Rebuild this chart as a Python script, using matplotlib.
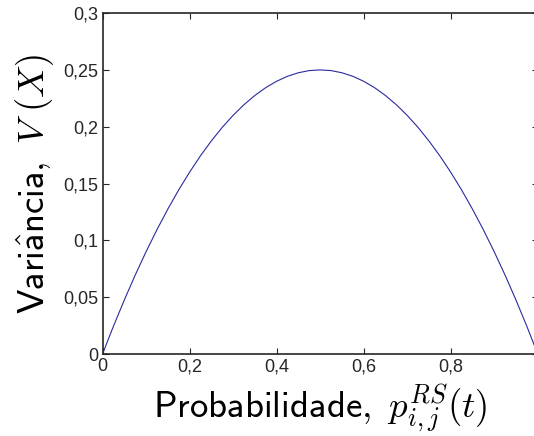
import matplotlib
matplotlib.use('Agg')
from matplotlib import pyplot as plt

# probability values and variance
p = [0.0, 0.025, 0.05, 0.075, 0.1, 0.125, 0.15, 0.175, 0.2, 0.225, 0.25,
     0.275, 0.3, 0.325, 0.35, 0.375, 0.4, 0.425, 0.45, 0.475, 0.5,
     0.525, 0.55, 0.575, 0.6, 0.625, 0.65, 0.675, 0.7, 0.725, 0.75,
     0.775, 0.8, 0.825, 0.85, 0.875, 0.9, 0.925, 0.95, 0.975, 1.0]
var = [0.0, 0.0244, 0.0475, 0.0694, 0.09, 0.1094, 0.1275, 0.1444, 0.16, 0.1744, 0.1875,
       0.1994, 0.21, 0.2194, 0.2275, 0.2344, 0.24, 0.2444, 0.2475, 0.2494, 0.25,
       0.2494, 0.2475, 0.2444, 0.24, 0.2344, 0.2275, 0.2194, 0.21, 0.1994, 0.1875,
       0.1744, 0.16, 0.1444, 0.1275, 0.1094, 0.09, 0.0694, 0.0475, 0.0244, 0.0]

xticks = [0, 0.2, 0.4, 0.6, 0.8, 1.0]
xtick_labels = ['0', '0,2', '0,4', '0,6', '0,8', '']
yticks = [0, 0.05, 0.1, 0.15, 0.2, 0.25, 0.3]
ytick_labels = ['0', '0,05', '0,1', '0,15', '0,2', '0,25', '0,3']

plt.rcParams['mathtext.fontset'] = 'cm'
plt.rcParams['font.family'] = ['Liberation Sans', 'DejaVu Sans']

fig = plt.figure(figsize=(5.34, 4.36), dpi=100)
ax = fig.add_axes([0.192, 0.188, 0.815, 0.782])

ax.plot(p, var, color='#2a2aa0', linewidth=0.8)

ax.set_xlim(0, 1)
ax.set_ylim(0, 0.3)
ax.set_xticks(xticks)
ax.set_xticklabels(xtick_labels)
ax.set_yticks(yticks)
ax.set_yticklabels(ytick_labels)
ax.tick_params(direction='in', top=True, right=True, labelsize=13, length=4, width=0.8, colors='#262626', pad=3)
for s in ax.spines.values():
    s.set_linewidth(1.2)
    s.set_color('#262626')

ax.set_xlabel(r'$\mathsf{Probabilidade,}\ p_{i,j}^{RS}(t)$', fontsize=26.5, labelpad=5)
ax.set_ylabel(r'$\mathsf{Vari\hat{a}ncia,}\ V\ (X)$', fontsize=26.5, labelpad=5)

plt.savefig('out.png', dpi=100)
